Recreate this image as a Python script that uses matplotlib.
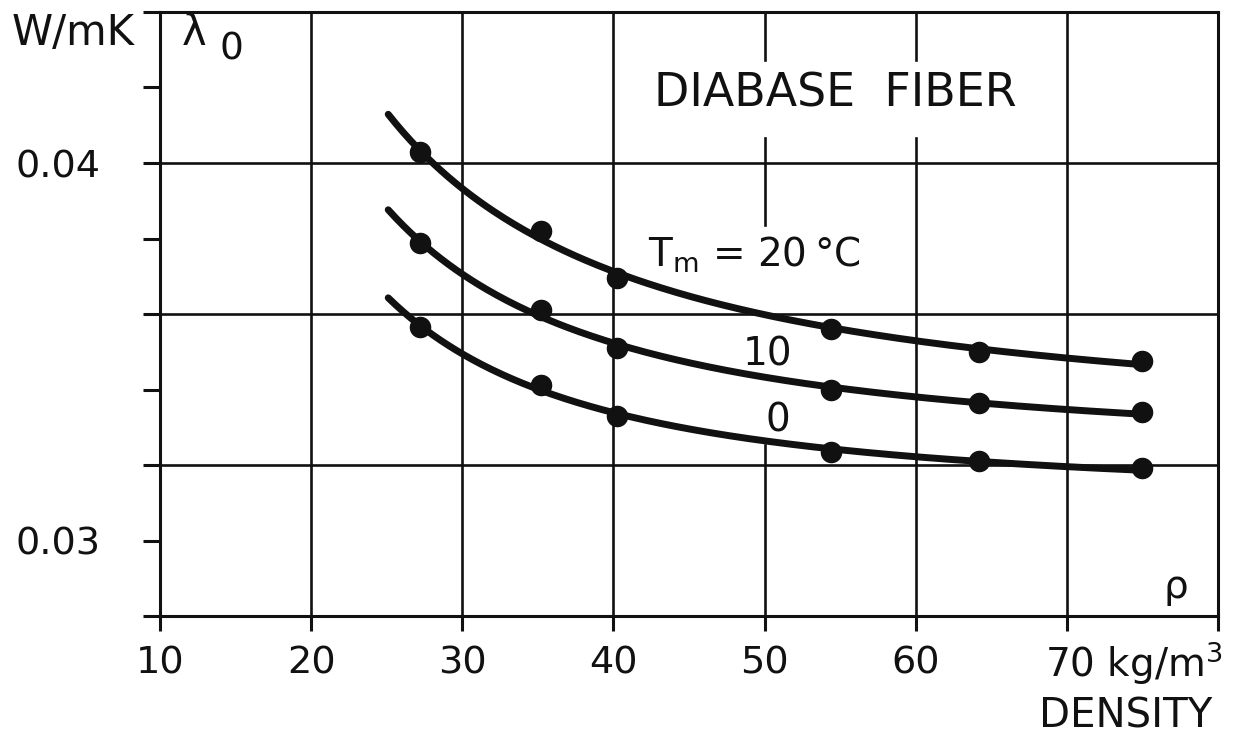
import numpy as np
import matplotlib
matplotlib.use("Agg")
import matplotlib.pyplot as plt
from matplotlib.ticker import FixedLocator

# Measured thermal conductivity of diabase fiber vs. bulk density
density = [27.2, 35.2, 40.25, 54.4, 64.2, 75.0]          # kg/m^3
lam_20 = [0.04028, 0.03820, 0.03695, 0.03559, 0.03500, 0.03476]  # W/mK at Tm = 20 °C
lam_10 = [0.03788, 0.03611, 0.03509, 0.03399, 0.03363, 0.03341]  # Tm = 10 °C
lam_0 = [0.03566, 0.03412, 0.03329, 0.03234, 0.03210, 0.03191]   # Tm = 0 °C

x_ticks = [10, 20, 30, 40, 50, 60, 70, 80]
x_ticklabels = ["10", "20", "30", "40", "50", "60", "", ""]
y_ticks = [0.028, 0.030, 0.032, 0.034, 0.036, 0.038, 0.040, 0.042, 0.044]
y_ticklabels = ["", "0.03", "", "", "", "", "0.04", "", ""]
curve_start = 25.1

plt.rcParams["font.family"] = ["DejaVu Sans"]
INK = "#111111"

fig = plt.figure(figsize=(12.42, 7.37), dpi=100)
ax = fig.add_axes([160 / 1242, 121 / 737, 1058 / 1242, 604 / 737])
ax.set_xlim(10, 80)
ax.set_ylim(0.028, 0.044)

for s in ax.spines.values():
    s.set_linewidth(2.2)
    s.set_color(INK)

ax.xaxis.set_major_locator(FixedLocator(x_ticks))
ax.set_xticklabels(x_ticklabels)
ax.yaxis.set_major_locator(FixedLocator(y_ticks))
ax.set_yticklabels(y_ticklabels)
ax.tick_params(axis="x", direction="out", length=11, width=2.2, color=INK,
               pad=10, labelsize=27.5, labelcolor=INK)
ax.tick_params(axis="y", direction="out", length=12, width=2.2, color=INK,
               pad=31, labelsize=27.5, labelcolor=INK)

# grid lines (some interrupted around the annotations)
grid_kw = dict(color=INK, lw=1.9, zorder=1)
for yv in [0.032, 0.036, 0.040]:
    ax.axhline(yv, **grid_kw)
for xv in [20, 30, 40, 70]:
    ax.axvline(xv, **grid_kw)
for lo, hi in [(0.9205, 1.0), (0.6474, 0.7914), (0.0, 0.2831)]:
    ax.axvline(50, ymin=lo, ymax=hi, **grid_kw)
for lo, hi in [(0.9205, 1.0), (0.0, 0.7914)]:
    ax.axvline(60, ymin=lo, ymax=hi, **grid_kw)

# smooth fitted curves through each series: lambda = a + b/rho + c/rho^2
xs = np.linspace(curve_start, density[-1], 300)
rho = np.asarray(density)
for series in (lam_20, lam_10, lam_0):
    A = np.column_stack([np.ones_like(rho), 1 / rho, 1 / rho**2])
    coef, *_ = np.linalg.lstsq(A, np.asarray(series), rcond=None)
    ys = coef[0] + coef[1] / xs + coef[2] / xs**2
    ax.plot(xs, ys, color=INK, lw=5.0, solid_capstyle="round", zorder=3)
    ax.plot(density, series, "o", color=INK, ms=14.5, zorder=4)

# annotations
ax.text(54.65, 0.04183, "DIABASE  FIBER", fontsize=33, ha="center", va="center", color=INK)
ax.text(42.3, 0.03724, "T$_\\mathregular{m}$ = 20\u2009°C", fontsize=28, ha="left",
        va="baseline", color=INK)
ax.text(50.22, 0.03494, "10", fontsize=28, ha="center", va="center", color=INK)
ax.text(50.88, 0.03317, "0", fontsize=28, ha="center", va="center", color=INK)
ax.text(77.24, 0.02877, "ρ", fontsize=28, ha="center", va="center", color=INK)

fig.text(12 / 1242, 1 - 45 / 737, "W/mK", fontsize=30, ha="left", va="baseline", color=INK)
fig.text(182 / 1242, 1 - 45 / 737, "λ", fontsize=30, ha="left", va="baseline", color=INK)
fig.text(219 / 1242, 1 - 59 / 737, "0", fontsize=27, ha="left", va="baseline", color=INK)
fig.text(1045 / 1242, 1 - 677 / 737, r"70 kg/m$^\mathregular{3}$", fontsize=28, ha="left",
         va="baseline", color=INK)
fig.text(1212 / 1242, 1 - 728 / 737, "DENSITY", fontsize=29, ha="right", va="baseline", color=INK)

fig.savefig("out.png", dpi=100, facecolor="white")
